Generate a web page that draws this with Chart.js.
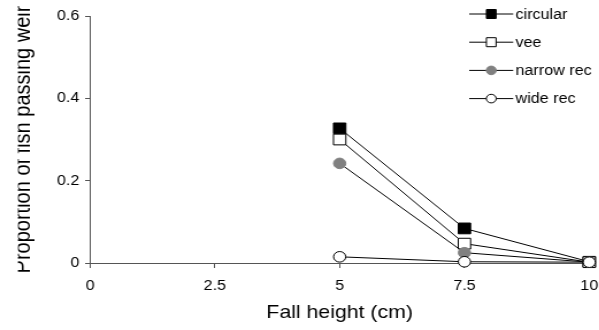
<!DOCTYPE html>
<html>
<head>
<meta charset="utf-8">
<script src="https://cdn.jsdelivr.net/npm/chart.js@4/dist/chart.umd.min.js"></script>
<style>
  html, body { margin: 0; padding: 0; background: #fff; overflow: hidden; }
  /* the figure is drawn narrow and widened, which gives its lettering a broad look */
  #wrap { width: 521px; height: 330px; transform: scaleX(1.15); transform-origin: 0 0; }
  canvas { display: block; }
</style>
</head>
<body>
<div id="wrap"><canvas id="c" width="521" height="330"></canvas></div>
<script>
// Fall heights (cm) tested for each weir shape
const fallHeights = [5, 7.5, 10];

// Proportion of fish passing the weir, one list per weir shape
const circular  = [0.327, 0.084, 0.003];
const vee       = [0.300, 0.047, 0.002];
const narrowRec = [0.242, 0.025, 0.002];
const wideRec   = [0.015, 0.003, 0.002];

const seriesNames = ['circular', 'vee', 'narrow rec', 'wide rec'];

// Axis tick positions
const xTicks = [0, 2.5, 5, 7.5, 10];
const yTicks = [0, 0.2, 0.4, 0.6];

const FONT = "'Liberation Sans', Arial, sans-serif";
const AXIS = '#555555';

function points(values) {
  return fallHeights.map((x, i) => ({ x: x, y: values[i] }));
}

const styles = [
  { pointStyle: 'rect',   radius: 7.6, fill: '#000000', stroke: '#000000' },
  { pointStyle: 'rect',   radius: 7.6, fill: '#ffffff', stroke: '#000000' },
  { pointStyle: 'circle', radius: 5.3, fill: '#808080', stroke: '#808080' },
  { pointStyle: 'circle', radius: 5.3, fill: '#ffffff', stroke: '#000000' }
];

const seriesValues = [circular, vee, narrowRec, wideRec];

const datasets = seriesValues.map((vals, i) => ({
  label: seriesNames[i],
  data: points(vals),
  borderColor: '#000000',
  borderWidth: 1,
  pointStyle: styles[i].pointStyle,
  pointRadius: styles[i].radius,
  pointHoverRadius: styles[i].radius,
  pointBackgroundColor: styles[i].fill,
  pointBorderColor: styles[i].stroke,
  pointBorderWidth: 1,
  tension: 0,
  clip: false,
  order: seriesValues.length - i
}));

// Legend with a line-and-marker key, placed at the upper right of the plot
const lineKeyLegend = {
  id: 'lineKeyLegend',
  afterDatasetsDraw(chart) {
    const ctx = chart.ctx;
    const area = chart.chartArea;
    const lineX0 = area.right - 104.4;
    const lineX1 = area.right - 66.1;
    const markX = (lineX0 + lineX1) / 2;
    const textX = area.right - 64.1;
    ctx.save();
    chart.data.datasets.forEach((ds, i) => {
      const y = area.top - 2 + i * 28.2;
      ctx.strokeStyle = '#000000';
      ctx.lineWidth = 1;
      ctx.beginPath();
      ctx.moveTo(lineX0, y);
      ctx.lineTo(lineX1, y);
      ctx.stroke();
      ctx.fillStyle = ds.pointBackgroundColor;
      ctx.strokeStyle = ds.pointBorderColor;
      ctx.beginPath();
      if (ds.pointStyle === 'rect') {
        ctx.rect(markX - 4.2, y - 4.5, 8.4, 9);
      } else {
        ctx.arc(markX, y, 4.3, 0, Math.PI * 2);
      }
      ctx.fill();
      ctx.stroke();
      ctx.fillStyle = '#000000';
      ctx.font = '14px ' + FONT;
      ctx.textAlign = 'left';
      ctx.textBaseline = 'middle';
      ctx.fillText(ds.label, textX, y + 1);
    });
    ctx.restore();
  }
};

// The vertical axis title runs past the left margin and is trimmed there
const leftMargin = {
  id: 'leftMargin',
  afterDraw(chart) {
    const ctx = chart.ctx;
    ctx.save();
    ctx.fillStyle = '#ffffff';
    ctx.fillRect(0, 0, 15.6, chart.height);
    ctx.restore();
  }
};

new Chart(document.getElementById('c'), {
  type: 'line',
  data: { datasets: datasets },
  plugins: [lineKeyLegend, leftMargin],
  options: {
    responsive: false,
    animation: false,
    layout: { padding: { left: 0, right: 5.3, top: 16, bottom: 0 } },
    plugins: {
      legend: { display: false },
      tooltip: { enabled: false }
    },
    scales: {
      x: {
        type: 'linear',
        min: 0,
        max: 10,
        afterBuildTicks(scale) { scale.ticks = xTicks.map(v => ({ value: v })); },
        afterFit(scale) { scale.height = 67; scale.paddingLeft = 0; scale.paddingRight = 0; },
        ticks: {
          color: '#000000',
          font: { family: FONT, size: 14 },
          padding: 10,
          maxRotation: 0,
          autoSkip: false,
          callback: (v) => String(v)
        },
        grid: { display: true, drawOnChartArea: false, drawTicks: true, tickLength: 5, color: AXIS },
        border: { display: true, color: AXIS, width: 1 },
        title: {
          display: true,
          text: 'Fall height (cm)',
          color: '#000000',
          font: { family: FONT, size: 18.5 },
          padding: { top: 0, bottom: 5.5 }
        }
      },
      y: {
        type: 'linear',
        min: 0,
        max: 0.6,
        afterBuildTicks(scale) { scale.ticks = yTicks.map(v => ({ value: v })); },
        afterFit(scale) { scale.width = 78.3; scale.paddingTop = 0; scale.paddingBottom = 0; },
        ticks: {
          color: '#000000',
          font: { family: FONT, size: 14 },
          padding: 5,
          autoSkip: false,
          callback: (v) => String(v)
        },
        grid: { display: true, drawOnChartArea: false, drawTicks: true, tickLength: 4.3, color: AXIS },
        border: { display: true, color: AXIS, width: 1 },
        title: {
          display: true,
          text: 'Proportion of fish passing weir',
          color: '#000000',
          font: { family: FONT, size: 20 },
          padding: { top: 8, bottom: 0 }
        }
      }
    }
  }
});
</script>
</body>
</html>
